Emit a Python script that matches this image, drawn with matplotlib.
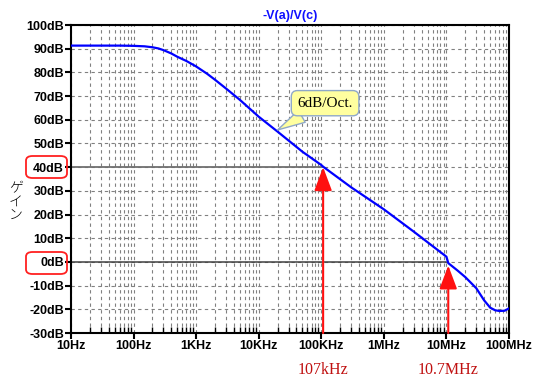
import numpy as np
import matplotlib.pyplot as plt
from matplotlib.patches import FancyBboxPatch
from matplotlib.ticker import LogLocator, NullFormatter, FixedLocator

# gain curve
freq = [10, 30, 60, 100, 150, 200, 250, 300, 400, 500, 700, 1e3, 1.5e3, 2e3, 3e3,
        5e3, 1e4, 2e4, 5e4, 1e5, 1.07e5, 3e5, 1e6, 3e6, 1e7, 1.07e7, 1.5e7, 2e7,
        3e7, 4e7, 5e7, 6e7, 7e7, 8.5e7, 1e8]
gain = [91.3, 91.3, 91.3, 91.2, 91.0, 90.6, 90.1, 89.4, 88.0, 86.6, 84.8, 82.5,
        79.4, 76.9, 73.2, 68.4, 61.3, 55.0, 46.5, 40.9, 40.2, 31.5, 22.2, 12.8,
        2.2, -0.5, -3.6, -6.4, -11.1, -16.2, -19.3, -20.4, -20.7, -20.6, -19.6]

xtick_pos = [1e1, 1e2, 1e3, 1e4, 1e5, 1e6, 1e7, 1e8]
xtick_lab = ['10Hz', '100Hz', '1KHz', '10KHz', '100KHz', '1MHz', '10MHz', '100MHz']
ytick_pos = list(range(-30, 101, 10))
ytick_lab = [f'{v}dB' for v in ytick_pos]

marks = [(1.07e5, 40.0, '107kHz'), (1.07e7, -1.5, '10.7MHz')]

W, H = 543, 383
fig = plt.figure(figsize=(W / 100, H / 100), dpi=100, facecolor='white')
ax = fig.add_axes([71 / W, 1 - 333 / H, 438 / W, 308 / H])

ax.set_xscale('log')
ax.set_xlim(10, 1e8)
ax.set_ylim(-30, 100)

# grid
ax.xaxis.set_major_locator(FixedLocator(xtick_pos))
ax.xaxis.set_minor_locator(LogLocator(base=10, subs=np.arange(2, 10), numticks=20))
ax.xaxis.set_minor_formatter(NullFormatter())
ax.set_xticklabels(xtick_lab)
ax.set_yticks(ytick_pos)
ax.set_yticklabels(ytick_lab)
ax.grid(True, which='both', axis='x', color='#808080', linestyle=(0, (3, 3)), linewidth=0.8)
ax.grid(True, which='major', axis='y', color='#808080', linestyle=(0, (3, 3)), linewidth=0.8)

for lab in ax.get_xticklabels() + ax.get_yticklabels():
    lab.set_fontfamily('Liberation Sans')
    lab.set_fontweight('bold')
    lab.set_fontsize(9)
ax.tick_params(axis='both', which='major', direction='out', length=4, width=1.5, pad=1)
ax.tick_params(axis='x', which='minor', direction='in', length=4, width=1)
for s in ax.spines.values():
    s.set_linewidth(1.5)

# reference lines
ax.plot([10, 1.07e5], [40, 40], color='#707070', linewidth=1.3, zorder=2)
ax.plot([10, 1.0e7], [0, 0], color='#404040', linewidth=1.1, zorder=2)

ax.plot(freq, gain, color='#0000ff', linewidth=1.6, zorder=3)

# red arrows with frequency labels
for f, tip, txt in marks:
    ax.annotate('', xy=(f, tip), xytext=(f, -30),
                arrowprops=dict(arrowstyle='-|>,head_length=1.2,head_width=0.45',
                                color='#ff1010', lw=1.5, shrinkA=0, shrinkB=0,
                                mutation_scale=12), zorder=4)
    ax.annotate(txt, xy=(f, -30), xytext=(0, -27), textcoords='offset points',
                ha='center', va='center', color='#c01010',
                fontfamily='Liberation Serif', fontsize=11.5, annotation_clip=False)

# callout
ax.annotate('6dB/Oct.', xy=(2.0e4, 55.7), xytext=(1.15e5, 67),
            ha='center', va='center', fontfamily='Liberation Serif', fontsize=11,
            bbox=dict(boxstyle='round,pad=0.4', fc='#ffff9f', ec='#8fa8c8', lw=1),
            arrowprops=dict(arrowstyle='wedge,tail_width=0.9', fc='#ffff9f',
                            ec='#8fa8c8', lw=1, shrinkA=0, shrinkB=0), zorder=5)

ax.set_title('-V(a)/V(c)', color='#1010ff', fontweight='bold', fontsize=9,
             fontfamily='Liberation Sans', pad=4)

# vertical japanese label
fig.text(16 / W, 1 - 202 / H, 'ゲ\nイ\nン', ha='center', va='center',
         fontfamily=['Noto Sans CJK JP', 'DejaVu Sans'], fontsize=10,
         linespacing=1.0, fontweight='light')

# red boxes around 40dB and 0dB labels
for y0, y1 in [(156, 178), (252, 274)]:
    box = FancyBboxPatch((26 / W, 1 - y1 / H), 41 / W, (y1 - y0) / H,
                         boxstyle='round,pad=0,rounding_size=0.012',
                         transform=fig.transFigure, fill=False,
                         edgecolor='#ff2020', linewidth=1.3)
    fig.patches.append(box)

fig.savefig('out.png', dpi=100, facecolor='white')
